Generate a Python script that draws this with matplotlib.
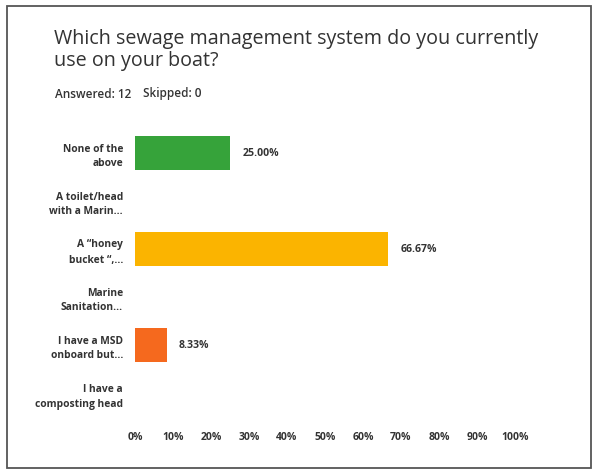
import matplotlib.pyplot as plt
from matplotlib.patches import Rectangle

# survey answers, top to bottom
categories = [
    "None of the\nabove",
    "A toilet/head\nwith a Marin...",
    "A \u201choney\nbucket \u201c,...",
    "Marine\nSanitation...",
    "I have a MSD\nonboard but...",
    "I have a\ncomposting head",
]
percents = [25.00, 0.0, 66.67, 0.0, 8.33, 0.0]
bar_colors = ["#36a33a", "#36a33a", "#fbb400", "#fbb400", "#f5691e", "#f5691e"]
x_ticks = [0, 10, 20, 30, 40, 50, 60, 70, 80, 90, 100]

plt.rcParams['font.family'] = ['Open Sans', 'DejaVu Sans']

fig = plt.figure(figsize=(5.94, 4.70), dpi=100)
W, H = 594, 470

# page frame
fig.patches.append(Rectangle((7 / W, 1 - 468 / H), 584 / W, 462 / H,
                             transform=fig.transFigure, fill=False,
                             edgecolor="#555555", linewidth=1.3))

fig.text(54 / W, 1 - 29 / H,
         "Which sewage management system do you currently\nuse on your boat?",
         fontsize=14.2, color="#333333", va="top", ha="left", linespacing=1.15)
fig.text(55 / W, 1 - 94 / H, "Answered: 12",
         fontsize=8.5, color="#333333", va="center", ha="left",
         fontweight="semibold")
fig.text(143 / W, 1 - 94 / H, "Skipped: 0",
         fontsize=8.5, color="#333333", va="center", ha="left",
         fontweight="semibold")

ax = fig.add_axes([135 / W, 1 - 417 / H, 380 / W, 288 / H])
ypos = range(len(categories))
ax.barh(ypos, percents, height=0.69, color=bar_colors)

for y, p in zip(ypos, percents):
    if p > 0:
        ax.text(p + 3.2, y, f"{p:.2f}%", va="center", ha="left",
                fontsize=7.6, fontweight="bold", color="#333333")

ax.set_xlim(0, 100)
ax.set_ylim(5.5, -0.5)
ax.set_yticks(list(ypos))
ax.set_yticklabels(categories, fontsize=7.4, fontweight="bold", color="#333333",
                   linespacing=1.5)
ax.set_xticks(x_ticks)
ax.set_xticklabels([f"{t}%" for t in x_ticks], fontsize=7.5, fontweight="bold",
                   color="#333333")
ax.tick_params(axis="both", length=0)
ax.tick_params(axis="y", pad=8.6)
ax.tick_params(axis="x", pad=11)
for s in ax.spines.values():
    s.set_visible(False)

fig.savefig("out.png", dpi=100)
